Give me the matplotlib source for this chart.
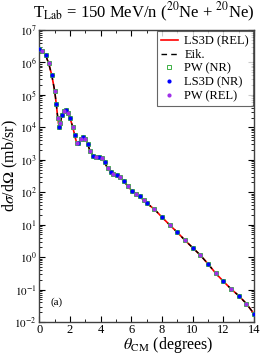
import matplotlib
matplotlib.use("Agg")
import matplotlib.pyplot as plt
import numpy as np
from matplotlib.ticker import LogLocator, NullFormatter, MultipleLocator, FuncFormatter

plt.rcParams['font.family'] = ['Liberation Serif', 'DejaVu Serif']
plt.rcParams['mathtext.fontset'] = 'stix'

theta = [0.0, 0.2, 0.4, 0.6, 0.8, 1.0, 1.1, 1.2, 1.29, 1.37, 1.47, 1.58, 1.72, 1.86,
         2.0, 2.17, 2.3, 2.43, 2.55, 2.7, 2.86, 3.0, 3.15, 3.3, 3.5, 3.7, 3.9, 4.07,
         4.25, 4.45, 4.65, 4.82, 5.05, 5.26, 5.5, 5.75, 6.03, 6.3, 6.57, 6.8, 7.0,
         7.5, 8.0, 8.5, 9.0, 9.5, 10.0, 10.5, 11.0, 11.5, 12.0, 12.5, 13.0, 13.5, 14.0]
sigma = [2.6e6, 2.3e6, 1.7e6, 9.5e5, 4.2e5, 1.3e5, 5.2e4, 1.9e4, 1.0e4, 1.4e4, 2.4e4, 3.2e4,
         3.4e4, 2.8e4, 1.9e4, 1.05e4, 5.8e3, 3.3e3, 3.2e3, 4.4e3, 5.1e3, 4.5e3, 3.0e3,
         1.9e3, 1.3e3, 1.2e3, 1.23e3, 1.12e3, 8.3e2, 5.5e2, 4.1e2, 3.6e2, 3.4e2, 3.0e2,
         2.2e2, 1.6e2, 1.1e2, 91, 76, 56, 46, 30, 17, 9.8, 5.8, 3.3, 1.95, 1.15, 0.62,
         0.32, 0.18, 0.105, 0.065, 0.037, 0.018]

labels = ["LS3D (REL)", "Eik.", "PW (NR)", "LS3D (NR)", "PW (REL)"]

th = np.array(theta)
sg = np.array(sigma)

fig = plt.figure(figsize=(2.61, 3.56), dpi=100)
ax = fig.add_axes([0.151, 0.0955, 0.822, 0.8202])

ax.plot(th, sg, color='red', lw=1.2, label=labels[0], zorder=2)
ax.plot(th, sg, color='black', lw=1.0, ls=(0, (4, 3)), label=labels[1], zorder=3)
ax.plot(th, sg, ls='none', marker='s', ms=2.2, mfc='none', mec='#3cb043', mew=0.7,
        label=labels[2], zorder=4)
ax.plot(th[::2], sg[::2], ls='none', marker='o', ms=3.0, color='#0000ff', mew=0,
        label=labels[3], zorder=5)
ax.plot(th[1::2], sg[1::2], ls='none', marker='o', ms=3.0, color='#a030e8', mew=0,
        label=labels[4], zorder=5)

ax.set_yscale('log')
ax.set_xlim(0, 14)
ax.set_ylim(1e-2, 1e7)
ax.xaxis.set_major_locator(MultipleLocator(2))
ax.xaxis.set_minor_locator(MultipleLocator(1))
ax.yaxis.set_major_locator(LogLocator(base=10, numticks=20))
ax.yaxis.set_minor_locator(LogLocator(base=10, subs=np.arange(2, 10), numticks=20))
ax.yaxis.set_minor_formatter(NullFormatter())
ax.yaxis.set_major_formatter(FuncFormatter(lambda v, p: r'$10^{%d}$' % int(round(np.log10(v)))))
ax.tick_params(which='both', direction='in', top=True, right=True, labelsize=9)
ax.tick_params(which='major', length=4, width=0.8)
ax.tick_params(which='minor', length=2, width=0.6)
ax.tick_params(axis='y', labelsize=8, pad=2)
ax.tick_params(axis='x', pad=1.5)
for s in ax.spines.values():
    s.set_linewidth(1.0)
    s.set_color('#404040')

ax.xaxis.label.set_visible(False)
ax.yaxis.label.set_visible(False)
ax.xaxis.get_offset_text().set_visible(False)
ax.yaxis.get_offset_text().set_visible(False)

fig.text(0.645, 0.03, r'$\theta_{\rm CM}$ (degrees)', fontsize=11.5,
         ha='center', va='center')
fig.text(0.038, 0.534, r'd$\sigma$/d$\Omega$ (mb/sr)', fontsize=11.5, rotation=90,
         ha='center', va='center')
fig.text(0.55, 0.965, r'T$_{\rm Lab}$ = 150 MeV/n ($^{20}$Ne + $^{20}$Ne)', fontsize=12,
         ha='center', va='center')
ax.text(0.7, 0.035, '(a)', fontsize=8)

leg = ax.legend(loc='upper right', fontsize=9, frameon=True, fancybox=False,
                borderaxespad=0.1, handlelength=1.4, handletextpad=0.5,
                labelspacing=0.15, borderpad=0.3, markerscale=1.0)
leg.get_frame().set_edgecolor('#404040')
leg.get_frame().set_linewidth(0.8)

fig.savefig('out.png', dpi=100)
